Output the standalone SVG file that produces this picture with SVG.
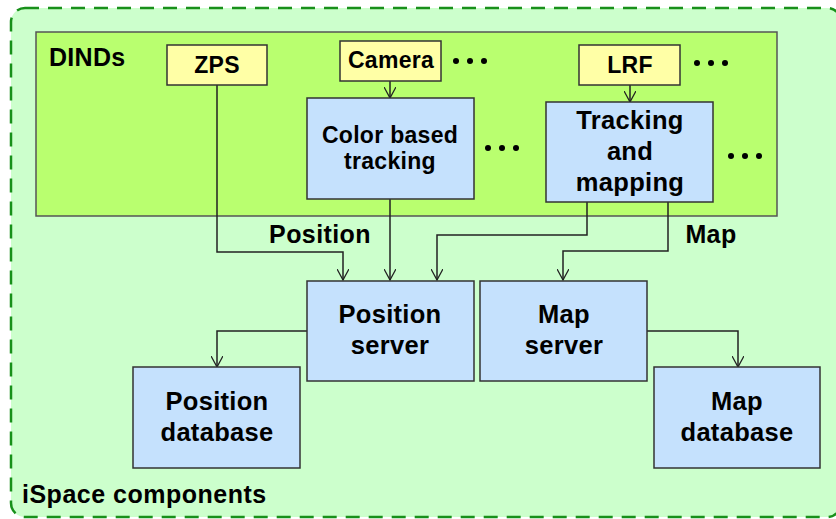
<svg xmlns="http://www.w3.org/2000/svg" width="836" height="519" viewBox="0 0 836 519">
<style>
text{font-family:"Liberation Sans",Arial,sans-serif;font-weight:bold;fill:#000;text-anchor:middle;letter-spacing:0.3px}
.lbl{text-anchor:start}
.sensor{fill:#ffffa6;stroke:#333;stroke-width:1.5}
.proc{fill:#c5e1fd;stroke:#333;stroke-width:1.5}
.conn{fill:none;stroke:#222;stroke-width:1.5}
.dot{fill:#000}
</style>
<defs>
<marker id="arr" viewBox="0 0 12 12" refX="11" refY="6" markerWidth="12" markerHeight="12" markerUnits="userSpaceOnUse" orient="auto">
<path d="M0,0 L11,6 L0,12" fill="none" stroke="#222" stroke-width="1.3"/>
</marker>
</defs>
<rect width="836" height="519" fill="#fff"/>
<g id="ispace">
<rect x="11" y="8" width="830" height="509" rx="14" ry="14" fill="#ccffcc" stroke="#18901a" stroke-width="2.5" stroke-dasharray="14 9"/>
<text class="lbl" x="22" y="503" font-size="25" style="letter-spacing:0.5px">iSpace components</text>
</g>
<g id="dinds">
<rect x="36" y="32" width="741" height="184" fill="#b9ff6f" stroke="#555" stroke-width="1.5"/>
<text class="lbl" x="49" y="66" font-size="25">DINDs</text>
</g>
<g id="connectors">
<path class="conn" d="M217,85 V252 H343 V280" marker-end="url(#arr)"/>
<path class="conn" d="M390,81 V98" marker-end="url(#arr)"/>
<path class="conn" d="M630,85 V102" marker-end="url(#arr)"/>
<path class="conn" d="M390,199 V280" marker-end="url(#arr)"/>
<path class="conn" d="M587,202 V235 H437 V280" marker-end="url(#arr)"/>
<path class="conn" d="M668,202 V251 H563 V280" marker-end="url(#arr)"/>
<path class="conn" d="M307,331 H217 V367" marker-end="url(#arr)"/>
<path class="conn" d="M647,331 H738 V367" marker-end="url(#arr)"/>
<text x="320" y="243" font-size="25" style="letter-spacing:0.4px">Position</text>
<text x="711" y="243" font-size="25" style="letter-spacing:0.4px">Map</text>
</g>
<g id="zps">
<rect class="sensor" x="167" y="45" width="100" height="40"/>
<text x="217" y="73" font-size="23">ZPS</text>
</g>
<g id="camera">
<rect class="sensor" x="340" y="41" width="101" height="40"/>
<text x="391" y="68" font-size="23">Camera</text>
</g>
<g id="lrf">
<rect class="sensor" x="579" y="45" width="101" height="40"/>
<text x="630" y="73" font-size="23">LRF</text>
</g>
<g id="color-tracking">
<rect class="proc" x="307" y="98" width="167" height="101"/>
<text x="390" y="143" font-size="23">Color based</text>
<text x="390" y="169" font-size="23">tracking</text>
</g>
<g id="tracking-mapping">
<rect class="proc" x="546" y="102" width="167" height="100"/>
<text x="630" y="129" font-size="25.5">Tracking</text>
<text x="630" y="160" font-size="25.5">and</text>
<text x="630" y="191" font-size="25.5">mapping</text>
</g>
<g id="position-server">
<rect class="proc" x="307" y="281" width="167" height="100"/>
<text x="390" y="323" font-size="25.5">Position</text>
<text x="390" y="354" font-size="25.5">server</text>
</g>
<g id="map-server">
<rect class="proc" x="480" y="281" width="167" height="100"/>
<text x="564" y="323" font-size="25.5">Map</text>
<text x="564" y="354" font-size="25.5">server</text>
</g>
<g id="position-database">
<rect class="proc" x="133" y="367" width="167" height="101"/>
<text x="217" y="410" font-size="25.5">Position</text>
<text x="217" y="441" font-size="25.5">database</text>
</g>
<g id="map-database">
<rect class="proc" x="654" y="367" width="166" height="101"/>
<text x="737" y="410" font-size="25.5">Map</text>
<text x="737" y="441" font-size="25.5">database</text>
</g>
<g id="ellipses">
<circle class="dot" cx="456" cy="61" r="3"/><circle class="dot" cx="470" cy="61" r="3"/><circle class="dot" cx="484" cy="61" r="3"/>
<circle class="dot" cx="488" cy="148" r="3"/><circle class="dot" cx="502" cy="148" r="3"/><circle class="dot" cx="516" cy="148" r="3"/>
<circle class="dot" cx="697" cy="63" r="3"/><circle class="dot" cx="711" cy="63" r="3"/><circle class="dot" cx="725" cy="63" r="3"/>
<circle class="dot" cx="731" cy="156" r="3"/><circle class="dot" cx="745" cy="156" r="3"/><circle class="dot" cx="759" cy="156" r="3"/>
</g>
</svg>
